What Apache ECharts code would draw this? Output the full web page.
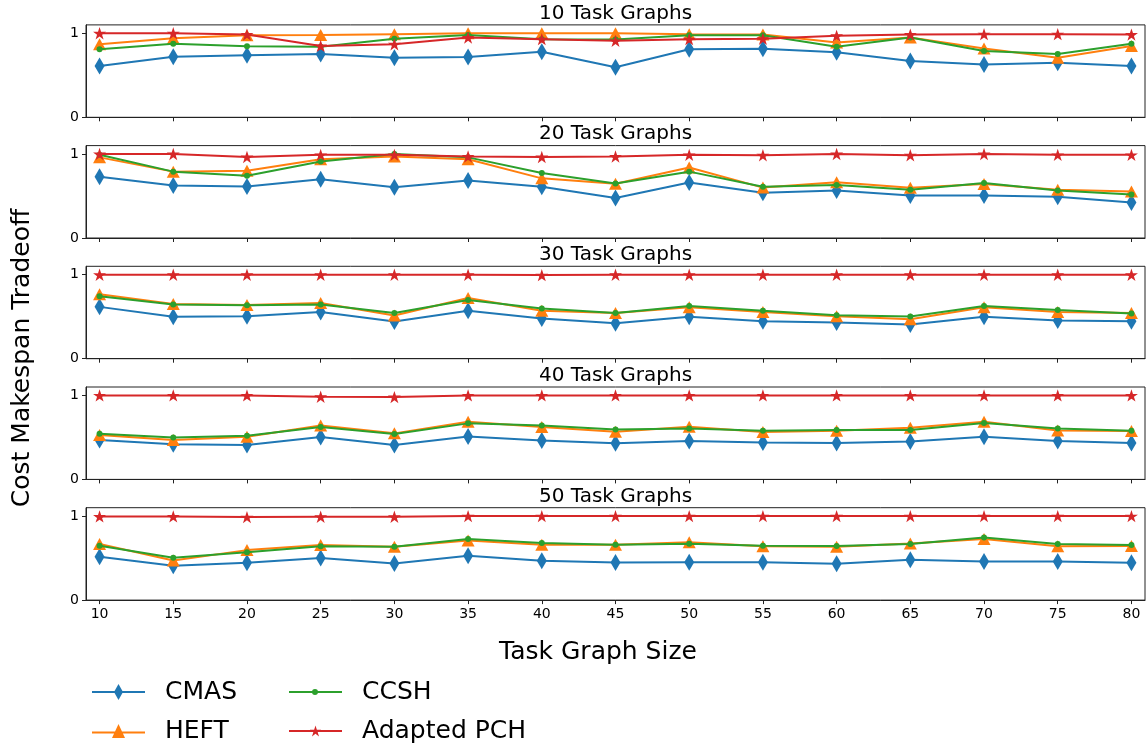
<!DOCTYPE html>
<html>
<head>
<meta charset="utf-8">
<script src="https://cdn.jsdelivr.net/npm/echarts@6/dist/echarts.min.js"></script>
<style>
html,body{margin:0;padding:0;background:#fff;}
#chart{width:1146px;height:745px;}
</style>
</head>
<body>
<div id="chart"></div>
<script>
// ---------- data ----------
const sizes = [10, 15, 20, 25, 30, 35, 40, 45, 50, 55, 60, 65, 70, 75, 80];
const xTickLabels = sizes;
const yTickLabels = [0, 1];
const panelTitles = ['10 Task Graphs', '20 Task Graphs', '30 Task Graphs', '40 Task Graphs', '50 Task Graphs'];
const algNames = ['CMAS', 'HEFT', 'CCSH', 'Adapted PCH'];

const cmas10 = [0.61, 0.72, 0.74, 0.755, 0.71, 0.718, 0.78, 0.595, 0.81, 0.817, 0.774, 0.67, 0.63, 0.65, 0.61];
const heft10 = [0.87, 0.94, 0.976, 0.98, 0.99, 1.0, 1.0, 1.0, 0.99, 0.985, 0.89, 0.95, 0.82, 0.71, 0.85];
const ccsh10 = [0.81, 0.876, 0.845, 0.84, 0.936, 0.98, 0.93, 0.925, 0.976, 0.976, 0.84, 0.95, 0.79, 0.754, 0.876];
const pch10  = [1.0, 1.0, 0.985, 0.85, 0.87, 0.95, 0.93, 0.91, 0.93, 0.935, 0.97, 0.985, 0.99, 0.99, 0.985];

const cmas20 = [0.73, 0.625, 0.613, 0.70, 0.605, 0.684, 0.61, 0.476, 0.66, 0.54, 0.565, 0.506, 0.506, 0.49, 0.423];
const heft20 = [0.96, 0.79, 0.80, 0.937, 0.97, 0.937, 0.71, 0.645, 0.84, 0.60, 0.664, 0.597, 0.644, 0.573, 0.553];
const ccsh20 = [0.99, 0.79, 0.74, 0.91, 1.0, 0.96, 0.775, 0.65, 0.79, 0.61, 0.632, 0.573, 0.656, 0.565, 0.518];
const pch20  = [1.0, 1.0, 0.964, 0.99, 0.99, 0.97, 0.964, 0.97, 0.99, 0.985, 1.0, 0.985, 1.0, 0.99, 0.99];

const cmas30 = [0.617, 0.50, 0.506, 0.557, 0.443, 0.57, 0.478, 0.423, 0.50, 0.447, 0.43, 0.407, 0.50, 0.455, 0.447];
const heft30 = [0.767, 0.65, 0.64, 0.664, 0.514, 0.723, 0.57, 0.545, 0.613, 0.557, 0.506, 0.47, 0.613, 0.557, 0.545];
const ccsh30 = [0.743, 0.644, 0.636, 0.644, 0.545, 0.70, 0.597, 0.545, 0.628, 0.57, 0.518, 0.502, 0.628, 0.58, 0.537];
const pch30  = [1.0, 1.0, 1.0, 1.0, 1.0, 1.0, 0.995, 1.0, 1.0, 1.0, 1.0, 1.0, 1.0, 1.0, 1.0];

const cmas40 = [0.468, 0.417, 0.41, 0.504, 0.41, 0.512, 0.464, 0.43, 0.456, 0.44, 0.432, 0.452, 0.508, 0.456, 0.432];
const heft40 = [0.528, 0.468, 0.508, 0.643, 0.548, 0.686, 0.623, 0.567, 0.627, 0.563, 0.58, 0.615, 0.686, 0.583, 0.575];
const ccsh40 = [0.544, 0.50, 0.52, 0.623, 0.54, 0.667, 0.643, 0.595, 0.607, 0.58, 0.587, 0.587, 0.67, 0.607, 0.58];
const pch40  = [1.0, 1.0, 1.0, 0.984, 0.98, 1.0, 1.0, 1.0, 1.0, 1.0, 1.0, 1.0, 1.0, 1.0, 1.0];

const cmas50 = [0.516, 0.41, 0.444, 0.50, 0.437, 0.528, 0.468, 0.448, 0.452, 0.452, 0.433, 0.48, 0.46, 0.46, 0.444];
const heft50 = [0.667, 0.472, 0.595, 0.655, 0.635, 0.71, 0.66, 0.66, 0.69, 0.64, 0.635, 0.675, 0.726, 0.64, 0.643];
const ccsh50 = [0.647, 0.504, 0.571, 0.64, 0.635, 0.726, 0.68, 0.66, 0.67, 0.647, 0.643, 0.667, 0.746, 0.667, 0.655];
const pch50  = [0.996, 0.996, 0.988, 0.992, 0.992, 1.0, 1.0, 1.0, 1.0, 1.0, 1.0, 1.0, 1.0, 1.0, 1.0];

const panelData = [
  [cmas10, heft10, ccsh10, pch10],
  [cmas20, heft20, ccsh20, pch20],
  [cmas30, heft30, ccsh30, pch30],
  [cmas40, heft40, ccsh40, pch40],
  [cmas50, heft50, ccsh50, pch50]
];

// ---------- styling ----------
const FONT = 'DejaVu Sans';
const colors = ['#1f77b4', '#ff7f0e', '#2ca02c', '#d62728'];
const STAR = 'path://M50,0 L61.23,34.55 L97.55,34.55 L68.16,55.9 L79.39,90.45 L50,69.1 L20.61,90.45 L31.84,55.9 L2.45,34.55 L38.77,34.55 Z';
const symbols = ['diamond', 'triangle', 'circle', STAR];
const symbolSizes = [[10, 17], [13, 12], 6, 13];

const gridLeft = 86, gridRight = 1, gridTop0 = 24.9, gridStep = 120.7, gridH = 92.4;
const gridW = 1146 - gridLeft - gridRight;

const grids = [], xAxes = [], yAxes = [], series = [], graphics = [];
panelTitles.forEach((t, k) => {
  const top = gridTop0 + k * gridStep;
  grids.push({left: gridLeft, right: gridRight, top: top, height: gridH,
    show: true, borderColor: '#222', borderWidth: 1, backgroundColor: 'transparent'});
  xAxes.push({
    type: 'value', gridIndex: k, min: 9.08, max: 80.92,
    axisLine: {show: true, onZero: false, lineStyle: {color: '#222', width: 1}},
    axisTick: {show: true, length: 4, customValues: xTickLabels, lineStyle: {color: '#222', width: 1}},
    axisLabel: {show: k === 4, customValues: xTickLabels, margin: 7,
      fontFamily: FONT, fontSize: 14, color: '#000'},
    splitLine: {show: false}
  });
  yAxes.push({
    type: 'value', gridIndex: k, min: 0, max: 1.1,
    axisLine: {show: true, lineStyle: {color: '#222', width: 1}},
    axisTick: {show: true, length: 4, customValues: yTickLabels, lineStyle: {color: '#222', width: 1}},
    axisLabel: {show: true, customValues: yTickLabels, margin: 7,
      fontFamily: FONT, fontSize: 14, color: '#000'},
    splitLine: {show: false}
  });
  graphics.push({type: 'text', x: gridLeft + gridW / 2, y: 13.5 + k * gridStep,
    style: {text: t, fontFamily: FONT, fontSize: 20, fill: '#000', align: 'center', verticalAlign: 'middle'}});
  panelData[k].forEach((arr, j) => {
    series.push({
      name: algNames[j], type: 'line', xAxisIndex: k, yAxisIndex: k,
      data: sizes.map((s, i) => [s, arr[i]]),
      symbol: symbols[j], symbolSize: symbolSizes[j], symbolKeepAspect: true,
      showAllSymbol: true,
      itemStyle: {color: colors[j], borderWidth: 0},
      lineStyle: {color: colors[j], width: 2},
      emphasis: {disabled: true},
      z: 2 + j
    });
  });
});

graphics.push({type: 'text', x: 22, y: 358, rotation: Math.PI / 2,
  style: {text: 'Cost Makespan Tradeoff', fontFamily: FONT, fontSize: 25, fill: '#000', align: 'center', verticalAlign: 'middle'}});
graphics.push({type: 'text', x: 598, y: 652,
  style: {text: 'Task Graph Size', fontFamily: FONT, fontSize: 25, fill: '#000', align: 'center', verticalAlign: 'middle'}});

// legend icons: line + marker
const legendIcons = [
  'path://M0,7 L53,7 L53,9 L0,9 Z M26.5,0 L31,8 L26.5,16 L22,8 Z',
  'path://M0,7.5 L53,7.5 L53,9.5 L0,9.5 Z M26.5,0 L33,14 L20,14 Z',
  'path://M0,2 L53,2 L53,4 L0,4 Z M23,3 A3,3 0 1,1 29,3 A3,3 0 1,1 23,3 Z',
  'path://M0,4.5 L53,4.5 L53,6.5 L0,6.5 Z M26.5,0 L27.85,4.15 L32.21,4.15 L28.68,6.71 L30.03,10.85 L26.5,8.29 L22.97,10.85 L24.32,6.71 L20.79,4.15 L25.15,4.15 Z'
];
const legendH = [16, 14, 6, 11];
const legendPos = [[92, 692], [92, 731], [289, 692], [289, 731]];
const legends = algNames.map((n, j) => ({
  data: [{name: n, icon: legendIcons[j]}],
  left: legendPos[j][0], top: legendPos[j][1] - 12.5,
  padding: 0, itemWidth: 53, itemHeight: legendH[j],
  itemStyle: {borderWidth: 0},
  textStyle: {fontFamily: FONT, fontSize: 25, color: '#000', padding: [0, 0, 0, 15]}
}));

const chart = echarts.init(document.getElementById('chart'), null, {renderer: 'canvas'});
chart.setOption({
  animation: false,
  backgroundColor: '#fff',
  grid: grids, xAxis: xAxes, yAxis: yAxes,
  legend: legends,
  graphic: graphics,
  series: series
});
</script>
</body>
</html>
